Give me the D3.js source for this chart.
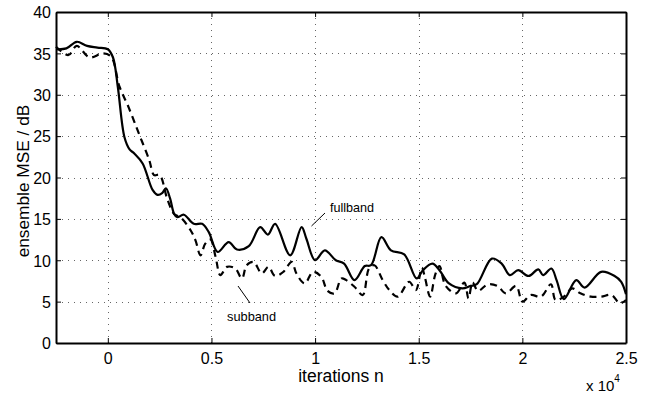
<!DOCTYPE html>
<html>
<head>
<meta charset="utf-8">
<script src="https://cdn.jsdelivr.net/npm/d3@7"></script>
<style>
  body { margin: 0; background: #fff; }
  text { font-family: "Liberation Sans", Arial, Helvetica, sans-serif; fill: #000; }
</style>
</head>
<body>
<div id="canvas"></div>
<script>
"use strict"

let drawingWidth = 656;
let drawingHeight = 396;

/* data, x in units of 10^4 iterations, y in dB */
let xTicks = [0, 0.5, 1, 1.5, 2, 2.5];
let yTicks = [0, 5, 10, 15, 20, 25, 30, 35, 40];

let fullX = [-0.25, -0.2, -0.15, -0.1, -0.05, 0, 0.025, 0.048, 0.08, 0.105, 0.128, 0.168, 0.216, 0.24, 0.262, 0.28, 0.3, 0.32, 0.335, 0.367, 0.415, 0.455, 0.487, 0.53, 0.583, 0.623, 0.68, 0.735, 0.772, 0.807, 0.88, 0.935, 0.958, 1.0, 1.047, 1.1, 1.14, 1.19, 1.24, 1.27, 1.32, 1.366, 1.43, 1.49, 1.52, 1.566, 1.6, 1.646, 1.71, 1.75, 1.78, 1.853, 1.9, 1.94, 1.98, 2.03, 2.077, 2.1, 2.14, 2.165, 2.2, 2.26, 2.3, 2.38, 2.445, 2.477, 2.5];
let fullY = [35.5, 35.6, 36.4, 35.9, 35.7, 35.5, 34.5, 31.0, 24.9, 23.4, 22.9, 21.7, 18.5, 17.9, 18.1, 18.7, 17.5, 15.6, 15.2, 15.5, 14.4, 14.4, 13.4, 11.0, 12.2, 11.3, 11.7, 14.0, 13.1, 14.4, 10.6, 14.0, 12.6, 10.0, 11.2, 10.0, 9.6, 7.6, 9.3, 9.4, 12.8, 11.2, 10.7, 7.8, 8.8, 9.6, 8.8, 7.2, 6.6, 6.9, 7.1, 10.2, 9.6, 8.2, 8.8, 8.1, 8.9, 8.2, 9.0, 7.6, 5.3, 7.6, 6.7, 8.6, 8.1, 7.4, 5.9];

let subX = [-0.25, -0.19, -0.15, -0.088, -0.024, 0.016, 0.056, 0.1, 0.15, 0.2, 0.223, 0.25, 0.288, 0.32, 0.35, 0.4, 0.423, 0.447, 0.47, 0.495, 0.52, 0.543, 0.575, 0.615, 0.647, 0.67, 0.703, 0.743, 0.775, 0.807, 0.847, 0.887, 0.91, 0.95, 0.99, 1.03, 1.06, 1.094, 1.127, 1.15, 1.19, 1.23, 1.26, 1.286, 1.326, 1.358, 1.398, 1.454, 1.486, 1.515, 1.53, 1.555, 1.58, 1.6, 1.63, 1.68, 1.72, 1.74, 1.76, 1.786, 1.834, 1.88, 1.92, 1.97, 2.0, 2.04, 2.09, 2.138, 2.16, 2.2, 2.24, 2.28, 2.33, 2.38, 2.43, 2.47, 2.5];
let subY = [35.8, 34.8, 35.9, 34.5, 35.0, 34.6, 31.0, 28.5, 25.3, 22.1, 20.3, 20.3, 17.3, 15.6, 15.2, 13.6, 12.4, 10.6, 12.0, 12.5, 10.4, 8.2, 9.2, 9.0, 7.8, 9.4, 9.8, 8.4, 9.2, 8.1, 8.6, 9.8, 8.4, 7.2, 8.6, 8.0, 6.3, 6.0, 7.8, 7.6, 6.8, 5.8, 9.0, 9.4, 7.6, 6.4, 5.6, 7.4, 6.4, 9.1, 7.9, 5.6, 8.3, 9.3, 6.9, 6.0, 7.3, 5.4, 7.3, 6.3, 7.1, 6.9, 6.0, 6.9, 5.0, 5.8, 5.6, 7.1, 5.2, 5.6, 6.6, 6.0, 5.6, 5.6, 5.8, 4.8, 5.2];

let margin = { left: 56, right: 30, top: 12, bottom: 53 };
let plotW = drawingWidth - margin.left - margin.right;
let plotH = drawingHeight - margin.top - margin.bottom;

let drawing = d3.select("#canvas")
    .append("svg")
    .attr("width", drawingWidth)
    .attr("height", drawingHeight);

let x = d3.scaleLinear().domain([-0.25, 2.5]).range([margin.left, margin.left + plotW]);
let y = d3.scaleLinear().domain([0, 40]).range([margin.top + plotH, margin.top]);

/* dotted grid */
let grid = drawing.append("g")
    .attr("stroke", "#666")
    .attr("stroke-width", 1)
    .attr("stroke-dasharray", "1,5");
grid.selectAll(".gx").data(xTicks).enter().append("line")
    .attr("x1", d => Math.round(x(d)) + 0.5).attr("x2", d => Math.round(x(d)) + 0.5)
    .attr("y1", y(40)).attr("y2", y(0));
grid.selectAll(".gy").data(yTicks).enter().append("line")
    .attr("x1", x(-0.25)).attr("x2", x(2.5))
    .attr("y1", d => Math.round(y(d)) + 0.5).attr("y2", d => Math.round(y(d)) + 0.5);

/* curves */
let line = d3.line().curve(d3.curveCatmullRom.alpha(0.5));

drawing.append("path")
    .attr("d", line(subX.map((v, i) => [x(v), y(subY[i])])))
    .attr("fill", "none")
    .attr("stroke", "#000")
    .attr("stroke-width", 2.2)
    .attr("stroke-dasharray", "7,5");

drawing.append("path")
    .attr("d", line(fullX.map((v, i) => [x(v), y(fullY[i])])))
    .attr("fill", "none")
    .attr("stroke", "#000")
    .attr("stroke-width", 2.2);

/* axes, matlab style with inward ticks */
let xAxis = d3.axisBottom(x).tickValues(xTicks).tickSizeInner(-5).tickSizeOuter(0)
    .tickFormat(d => d === 0 ? "0" : String(d));
let yAxis = d3.axisLeft(y).tickValues(yTicks).tickSizeInner(-5).tickSizeOuter(0);

let gx = drawing.append("g").attr("transform", `translate(0,${y(0)})`).call(xAxis);
let gy = drawing.append("g").attr("transform", `translate(${x(-0.25)},0)`).call(yAxis);
drawing.append("g").attr("transform", `translate(0,${y(40)})`)
    .call(d3.axisTop(x).tickValues(xTicks).tickSizeInner(-5).tickSizeOuter(0).tickFormat(""));
drawing.append("g").attr("transform", `translate(${x(2.5)},0)`)
    .call(d3.axisRight(y).tickValues(yTicks).tickSizeInner(-5).tickSizeOuter(0).tickFormat(""));

drawing.selectAll(".domain").attr("stroke", "#000").attr("stroke-width", 2);
drawing.selectAll(".tick line").attr("stroke", "#000").attr("stroke-width", 1);
gx.selectAll("text").attr("font-size", 16).attr("dy", "1.1em")
    .style("font-family", "Liberation Sans, Arial, sans-serif");
gy.selectAll("text").attr("font-size", 16).attr("x", -5).attr("dy", "0.36em")
    .style("font-family", "Liberation Sans, Arial, sans-serif");

/* axis titles */
drawing.append("text")
    .attr("x", 341).attr("y", 381.5)
    .attr("text-anchor", "middle")
    .attr("font-size", 17.5)
    .text("iterations n");

drawing.append("text")
    .attr("x", 28.5).attr("y", 181)
    .attr("text-anchor", "middle")
    .attr("font-size", 17.3)
    .attr("transform", "rotate(-90,28.5,181)")
    .text("ensemble MSE / dB");

let expo = drawing.append("text")
    .attr("x", 586).attr("y", 391)
    .attr("font-size", 15);
expo.append("tspan").text("x 10");
expo.append("tspan").attr("font-size", 10).attr("dy", -9).text("4");

/* annotations */
drawing.append("text").attr("x", 330).attr("y", 212).attr("font-size", 12.6).text("fullband");
drawing.append("line").attr("x1", 325).attr("y1", 213).attr("x2", 311.5).attr("y2", 226)
    .attr("stroke", "#000").attr("stroke-width", 1);

drawing.append("text").attr("x", 227).attr("y", 321).attr("font-size", 12.8).text("subband");
drawing.append("line").attr("x1", 238).attr("y1", 286).attr("x2", 250).attr("y2", 303)
    .attr("stroke", "#000").attr("stroke-width", 1);
</script>
</body>
</html>
